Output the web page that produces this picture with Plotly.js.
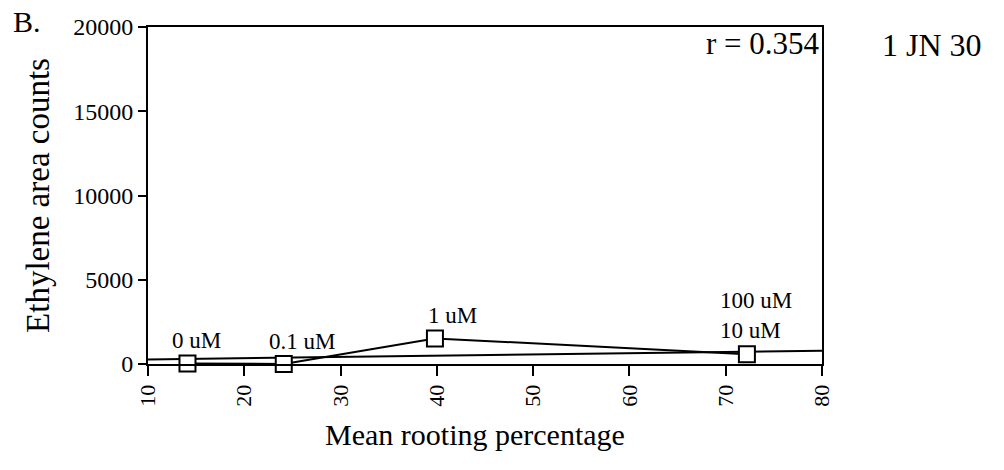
<!DOCTYPE html>
<html>
<head>
<meta charset="utf-8">
<script src="https://cdn.plot.ly/plotly-3.0.1.min.js"></script>
<style>html,body{margin:0;padding:0;background:#fff;}#chart{width:1004px;height:470px;}</style>
</head>
<body>
<div id="chart"></div>
<script>
// Data
const concentrations = ["0 uM", "0.1 uM", "1 uM", "10 uM"];
const rootingPct = [14.1, 24.1, 39.8, 72.2];
const ethyleneCounts = [30, 0, 1520, 580];
const pointLabels = ["0 uM", "0.1 uM", "1 uM", "100 uM<br>10 uM"];
const labelDx = [0.9, 1.9, 1.8, 0.9];
const labelDy = [8, 8, 8, 9];
const fitX = [10, 80];
const fitY = [270, 790];
const rText = "r = 0.354";
const xTicks = [10, 20, 30, 40, 50, 60, 70, 80];
const yTicks = [0, 5000, 10000, 15000, 20000];

const FONT = "Liberation Serif, Times New Roman, serif";

const traces = [
  {x: fitX, y: fitY, mode: "lines", line: {color: "#000", width: 2}, hoverinfo: "skip", showlegend: false, cliponaxis: false},
  {x: rootingPct, y: ethyleneCounts, mode: "lines+markers", text: concentrations,
   line: {color: "#000", width: 2}, cliponaxis: false,
   marker: {symbol: "square", size: 16, color: "#fff", line: {color: "#000", width: 2}},
   showlegend: false}
];

const annotations = rootingPct.map((x, i) => ({
  x: x + labelDx[i], y: ethyleneCounts[i], xref: "x", yref: "y",
  text: pointLabels[i], showarrow: false, yanchor: "bottom", yshift: labelDy[i],
  align: "left",
  font: {family: FONT, size: 23, color: "#000"}
}));
annotations.push(
  {xref: "paper", yref: "paper", x: 1.0, y: 0.95, xanchor: "right", yanchor: "middle",
   text: rText, showarrow: false, font: {family: FONT, size: 31, color: "#000"}},
  {xref: "paper", yref: "paper", x: 1.086, y: 0.946, xanchor: "left", yanchor: "middle",
   text: "1 JN 30", showarrow: false, font: {family: FONT, size: 32, color: "#000"}},
  {xref: "paper", yref: "paper", x: -0.203, y: 1.015, xanchor: "left", yanchor: "middle",
   text: "B.", showarrow: false, font: {family: FONT, size: 30, color: "#000"}},
  {xref: "paper", yref: "paper", x: 0.485, y: -0.155, xanchor: "center", yanchor: "top",
   text: "Mean rooting percentage", showarrow: false, font: {family: FONT, size: 30, color: "#000"}}
);

const layout = {
  width: 1004, height: 470,
  margin: {l: 148, r: 182, t: 27, b: 106, pad: 0},
  paper_bgcolor: "#fff", plot_bgcolor: "#fff",
  font: {family: FONT, color: "#000"},
  xaxis: {
    range: [10, 80], tickvals: xTicks, ticktext: xTicks.map(String), tickangle: -90,
    showgrid: false, zeroline: false, showline: true, mirror: true, linecolor: "#000", linewidth: 2,
    ticks: "outside", ticklen: 10, tickwidth: 2, tickcolor: "#000",
    tickfont: {family: FONT, size: 22, color: "#000"}
  },
  yaxis: {
    range: [0, 20000], tickvals: yTicks, ticktext: yTicks.map(String),
    showgrid: false, zeroline: false, showline: true, mirror: true, linecolor: "#000", linewidth: 2,
    ticks: "outside", ticklen: 8, tickwidth: 2, tickcolor: "#000",
    tickfont: {family: FONT, size: 24, color: "#000"},
    title: {text: "Ethylene area counts", font: {family: FONT, size: 33, color: "#000"}, standoff: 14}
  },
  annotations: annotations
};

Plotly.newPlot("chart", traces, layout, {staticPlot: true});
</script>
</body>
</html>
